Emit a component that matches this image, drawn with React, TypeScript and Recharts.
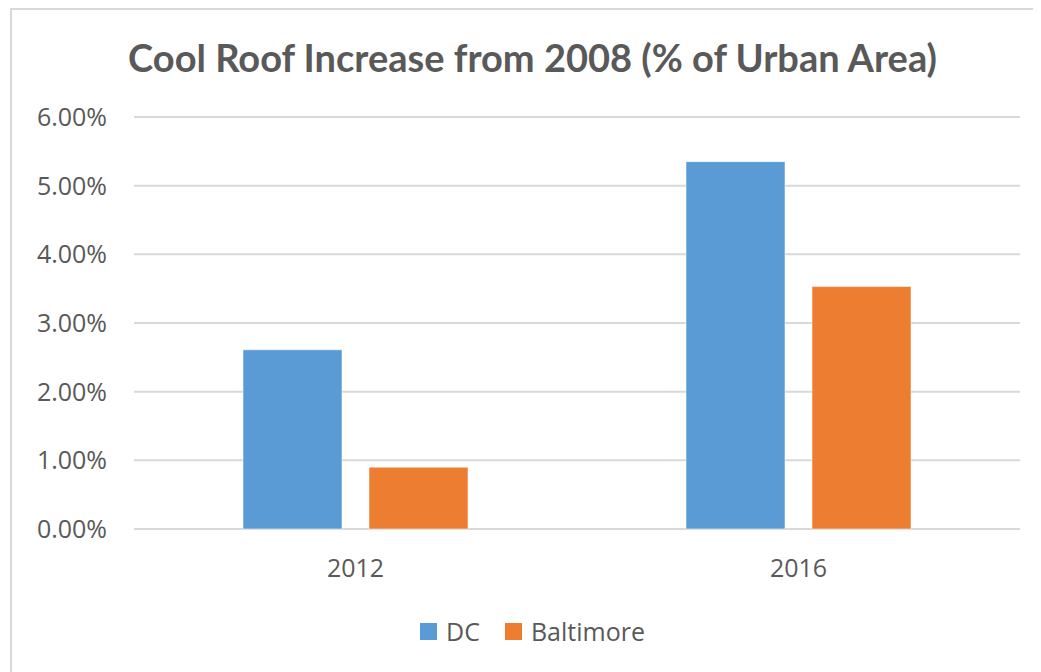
import React from 'react';
import { BarChart, Bar, XAxis, YAxis, CartesianGrid } from 'recharts';

const categories = ['2012', '2016'];
const dcValues = [0.0261, 0.0535];
const baltimoreValues = [0.009, 0.0353];
const yTicks = [0, 0.01, 0.02, 0.03, 0.04, 0.05, 0.06];

const SERIES = [
  { key: 'DC', color: '#5B9BD5' },
  { key: 'Baltimore', color: '#ED7D31' },
];

const data = categories.map((year, i) => ({
  year,
  DC: dcValues[i],
  Baltimore: baltimoreValues[i],
}));

const TEXT = '#595959';
const FONT = '"Open Sans", "Noto Sans", sans-serif';

const pct = (v: number) => `${(v * 100).toFixed(2)}%`;

const ChartLegend = () => (
  <div
    style={{
      position: 'absolute',
      left: 0,
      top: 606,
      width: 1049,
      display: 'flex',
      justifyContent: 'center',
      alignItems: 'center',
      fontFamily: FONT,
      fontSize: 25,
      color: TEXT,
    }}
  >
    {SERIES.map((s, i) => (
      <div key={s.key} style={{ display: 'flex', alignItems: 'center', marginLeft: i ? 25 : 0 }}>
        <span style={{ display: 'inline-block', width: 17, height: 17, background: s.color, marginRight: 9 }} />
        <span>{s.key}</span>
      </div>
    ))}
  </div>
);

export default function App() {
  return (
    <div style={{ position: 'relative', width: 1033, height: 664, overflow: 'hidden', background: '#fff' }}>
      <div
        style={{
          position: 'absolute',
          left: 2,
          top: 0,
          width: 1100,
          height: 800,
          border: '2px solid #D9D9D9',
          boxSizing: 'border-box',
        }}
      />
      <div
        style={{
          position: 'absolute',
          left: 0,
          top: 27,
          width: 1049,
          textAlign: 'center',
          fontFamily: '"Lato", "Open Sans", sans-serif',
          fontWeight: 700,
          fontSize: 38,
          lineHeight: '44px',
          color: TEXT,
        }}
      >
        Cool Roof Increase from 2008 (% of Urban Area)
      </div>
      <div style={{ position: 'absolute', left: 0, top: 0 }}>
        <BarChart
          width={1033}
          height={664}
          data={data}
          margin={{ top: 109, right: 21, bottom: 113, left: 26 }}
          barCategoryGap={109}
          barGap={27}
        >
          <CartesianGrid vertical={false} stroke="#D9D9D9" strokeWidth={2} />
          <XAxis
            dataKey="year"
            height={30}
            axisLine={false}
            tickLine={false}
            tickMargin={24}
            tick={{ fill: TEXT, fontSize: 25, fontFamily: FONT }}
          />
          <YAxis
            width={100}
            domain={[0, 0.06]}
            ticks={yTicks}
            tickFormatter={pct}
            axisLine={false}
            tickLine={false}
            tickMargin={21}
            tick={{ fill: TEXT, fontSize: 25, fontFamily: FONT }}
          />
          {SERIES.map((s) => (
            <Bar
              key={s.key}
              dataKey={s.key}
              fill={s.color}
              stroke="#ffffff"
              strokeOpacity={0.5}
              strokeWidth={1}
              isAnimationActive={false}
            />
          ))}
        </BarChart>
      </div>
      <ChartLegend />
    </div>
  );
}
